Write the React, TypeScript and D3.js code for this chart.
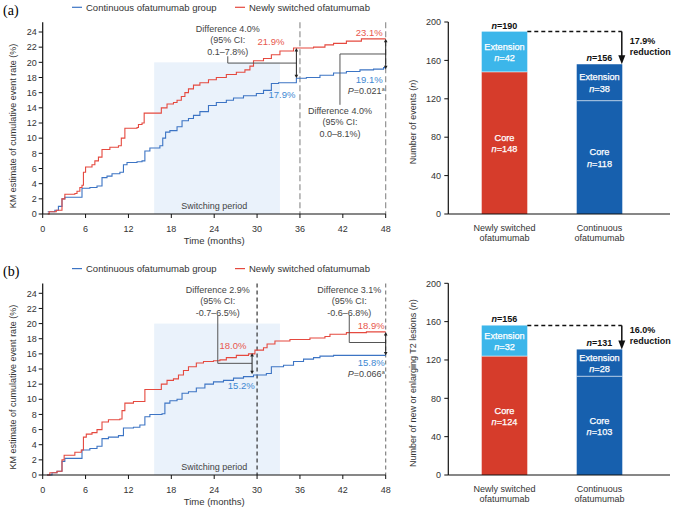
import * as d3 from "d3";

const monthTicks = [0, 6, 12, 18, 24, 30, 36, 42, 48];
const rateTicks = [0, 2, 4, 6, 8, 10, 12, 14, 16, 18, 20, 22, 24];
const countTicks = [0, 40, 80, 120, 160, 200];
const groups = ["Newly switched ofatumumab", "Continuous ofatumumab"];
const groupLines = [
  ["Newly switched", "ofatumumab"],
  ["Continuous", "ofatumumab"],
];
const legendLabels = ["Continuous ofatumumab group", "Newly switched ofatumumab"];
const switchingPeriod = [15.6, 33.2];

// (a) relapses — KM steps [month, cumulative %]
const relapseNewly: [number, number][] = [
  [0.7, 0], [0.9, 0.3], [1.9, 0.5], [2.7, 2.0], [3.1, 2.6], [4.5, 2.7], [4.8, 3.0], [5.2, 3.5],
  [5.5, 3.8], [5.7, 5.5], [6.0, 6.2], [6.9, 6.5], [7.3, 7.0], [7.8, 7.5], [8.3, 8.5],
  [9.4, 8.8], [10.6, 9.0], [11.0, 10.0], [11.5, 11.3], [13.2, 11.4], [13.4, 11.8],
  [13.9, 12.0], [14.2, 13.3], [16.6, 14.0], [17.4, 14.5], [18.3, 14.7], [18.8, 15.0],
  [19.4, 15.5], [19.9, 16.0], [20.4, 16.5], [21.1, 17.0], [22.0, 17.3], [23.2, 17.7],
  [24.3, 18.0], [25.7, 18.4], [27.1, 18.7], [28.3, 19.0], [29.0, 19.5], [29.5, 20.2],
  [30.9, 20.5], [32.0, 21.0], [33.2, 21.5], [35.1, 21.9], [37.9, 22.0], [39.5, 22.3],
  [40.7, 22.5], [42.5, 22.8], [44.6, 23.1], [48, 23.1],
];
const relapseContinuous: [number, number][] = [
  [0.7, 0.3], [1.7, 0.5], [2.2, 1.0], [2.7, 2.0], [3.1, 2.2], [5.5, 3.4], [6.6, 3.5],
  [7.6, 3.7], [8.3, 4.8], [9.0, 5.0], [9.7, 5.3], [10.8, 5.5], [11.3, 6.5], [11.8, 6.8],
  [13.2, 6.9], [13.9, 7.0], [14.3, 8.3], [15.0, 8.7], [16.4, 9.0], [16.8, 10.0],
  [17.2, 10.8], [17.8, 11.0], [18.8, 11.5], [19.5, 12.3], [20.4, 12.6], [21.1, 13.0],
  [22.0, 13.5], [23.2, 14.3], [24.3, 14.7], [25.7, 15.0], [26.7, 15.3], [28.1, 15.6],
  [29.9, 15.9], [30.9, 16.3], [32.0, 17.2], [33.0, 17.3], [35.5, 17.9], [36.9, 18.0],
  [38.8, 18.3], [40.7, 18.6], [42.5, 18.8], [44.4, 19.0], [46.3, 19.1], [47.7, 19.3], [48, 19.3],
];
const relapseCore = [148, 118];
const relapseExtension = [42, 38];
const relapseReduction = "17.9%";

// (b) new or enlarging T2 lesions
const lesionNewly: [number, number][] = [
  [0.6, 0], [1.0, 0.3], [2.0, 0.5], [2.7, 2.0], [3.0, 2.6], [4.5, 3.0], [5.4, 3.3],
  [5.7, 5.0], [6.1, 5.4], [6.9, 5.6], [7.6, 6.0], [8.3, 7.0], [9.2, 7.3], [10.8, 7.4],
  [11.1, 8.5], [11.5, 9.5], [12.7, 9.7], [14.3, 11.3], [16.6, 12.0], [17.4, 12.5],
  [18.3, 12.7], [19.0, 13.2], [19.7, 13.8], [20.4, 14.3], [21.5, 14.8], [22.5, 15.0],
  [23.9, 15.1], [24.8, 15.2], [25.7, 15.5], [27.1, 15.8], [28.8, 16.0], [29.7, 16.5],
  [30.9, 16.8], [31.4, 17.3], [32.5, 17.7], [34.6, 17.9], [37.4, 18.1], [39.5, 18.3],
  [40.2, 18.6], [42.5, 18.8], [45.3, 18.9], [48, 18.9],
];
const lesionContinuous: [number, number][] = [
  [0.6, 0], [1.3, 0.3], [2.0, 0.5], [2.7, 1.8], [3.1, 2.2], [5.5, 3.3], [6.6, 3.5],
  [7.6, 3.8], [8.3, 4.8], [9.2, 5.0], [10.6, 5.2], [11.3, 6.2], [12.7, 6.3], [13.6, 6.6],
  [14.3, 7.7], [15.0, 8.0], [16.7, 8.1], [17.1, 9.5], [17.8, 9.8], [18.8, 10.0],
  [19.5, 10.8], [20.4, 11.0], [21.5, 11.5], [22.7, 12.0], [23.9, 12.3], [25.3, 12.5],
  [26.7, 12.8], [28.1, 13.0], [29.5, 13.2], [31.3, 13.4], [32.0, 14.3], [33.7, 14.5],
  [35.1, 15.0], [36.5, 15.3], [37.9, 15.5], [38.8, 15.7], [40.7, 15.8], [48, 15.8],
];
const lesionCore = [124, 103];
const lesionExtension = [32, 28];
const lesionReduction = "16.0%";

// comparison callouts: month, newly %, continuous %, difference, CI, p
const relapseCallouts = [
  { t: 35.5, hi: 21.9, lo: 17.9, shownHi: "21.9%", shownLo: "17.9%", diff: "4.0%", ci: "0.1–7.8%", p: "" },
  { t: 48, hi: 23.1, lo: 19.1, shownHi: "23.1%", shownLo: "19.1%", diff: "4.0%", ci: "0.0–8.1%", p: "0.021" },
];
const lesionCallouts = [
  { t: 29.3, hi: 16.1, lo: 13.3, shownHi: "18.0%", shownLo: "15.2%", diff: "2.9%", ci: "-0.7–6.5%", p: "" },
  { t: 48, hi: 18.9, lo: 15.8, shownHi: "18.9%", shownLo: "15.8%", diff: "3.1%", ci: "-0.6–6.8%", p: "0.066" },
];

const RED = "#e5493f";
const BLUE = "#3c74c4";
const RED_TXT = "#e8584e";
const BLUE_TXT = "#3f88d2";
const GREY_TXT = "#444";
const FONT = "'Liberation Sans', Arial, sans-serif";

interface CalloutLayout {
  textT: number;
  textRowY: number;
  stemEnd: number;
  elbowV: number;
  hiDx: number;
  hiDy: number;
  loDx: number;
  loDy: number;
  pDy: number;
}

interface KMProps {
  tag: string;
  top: number;
  bottom: number;
  newly: [number, number][];
  continuous: [number, number][];
  callouts: typeof relapseCallouts;
  layouts: CalloutLayout[];
  refLines: { t: number; color: string; dash: string }[];
}

function KMPanel({ tag, top, bottom, newly, continuous, callouts, layouts, refLines }: KMProps) {
  const x = d3.scaleLinear().domain([0, 48]).range([42.7, 385.7]);
  const y = d3.scaleLinear().domain([0, 24]).range([bottom, top]);
  const line = d3
    .line<[number, number]>()
    .x((d) => x(d[0]))
    .y((d) => y(d[1]))
    .curve(d3.curveStepAfter);
  const axisTop = y(25.3);

  return (
    <g fontFamily={FONT}>
      <text x={3} y={top - 17} fontFamily="'Liberation Serif', 'Times New Roman', serif" fontSize={14}>
        {tag}
      </text>
      {/* legend */}
      <line x1={72} x2={82} y1={top - 24.7} y2={top - 24.7} stroke={BLUE} strokeWidth={1.2} />
      <text x={86} y={top - 21.5} fontSize={9.5} fill="#333">{legendLabels[0]}</text>
      <line x1={235} x2={245} y1={top - 24.7} y2={top - 24.7} stroke={RED} strokeWidth={1.2} />
      <text x={249} y={top - 21.5} fontSize={9.5} fill="#333">{legendLabels[1]}</text>

      {/* switching period */}
      <rect
        x={x(switchingPeriod[0])}
        y={y(20)}
        width={x(switchingPeriod[1]) - x(switchingPeriod[0])}
        height={y(0) - y(20)}
        fill="#eaf2fb"
      />
      <text x={x(24)} y={y(0) - 5} fontSize={9} fill="#444" textAnchor="middle">Switching period</text>

      {refLines.map((r) => (
        <line key={r.t} x1={x(r.t)} x2={x(r.t)} y1={axisTop} y2={y(0)} stroke={r.color} strokeWidth={1.1} strokeDasharray={r.dash} />
      ))}

      <path d={line(continuous) ?? ""} fill="none" stroke={BLUE} strokeWidth={1.1} />
      <path d={line(newly) ?? ""} fill="none" stroke={RED} strokeWidth={1.1} />

      {/* axes */}
      <line x1={x(0)} x2={x(0)} y1={axisTop} y2={y(0)} stroke="#111" strokeWidth={1.2} />
      <line x1={x(0)} x2={x(48)} y1={y(0)} y2={y(0)} stroke="#111" strokeWidth={1.2} />
      {rateTicks.map((t) => (
        <g key={t}>
          <line x1={x(0) - 4} x2={x(0)} y1={y(t)} y2={y(t)} stroke="#111" strokeWidth={1} />
          <text x={x(0) - 6} y={y(t) + 3.2} fontSize={9} textAnchor="end" fill="#333">{t}</text>
        </g>
      ))}
      {monthTicks.map((t) => (
        <g key={t}>
          <line x1={x(t)} x2={x(t)} y1={y(0)} y2={y(0) + 4} stroke="#111" strokeWidth={1} />
          <text x={x(t)} y={y(0) + 18} fontSize={9} textAnchor="middle" fill="#333">{t}</text>
        </g>
      ))}
      <text x={x(24)} y={y(0) + 30} fontSize={9.5} textAnchor="middle" fill="#333">Time (months)</text>
      <text
        transform={`translate(15.5,${(y(0) + top) / 2 + 3}) rotate(-90)`}
        fontSize={9}
        textAnchor="middle"
        fill="#333"
      >
        KM estimate of cumulative event rate (%)
      </text>

      {callouts.map((c, i) => {
        const L = layouts[i];
        const ax = x(c.t);
        const tx = x(L.textT);
        return (
          <g key={i}>
            <path
              d={`M${tx},${y(L.stemEnd)}V${y(L.elbowV)}H${ax}`}
              fill="none"
              stroke="#555"
              strokeWidth={1}
            />
            <line x1={ax} x2={ax} y1={y(c.hi) + 3} y2={y(c.lo) - 3} stroke="#222" strokeWidth={1} />
            <path d={`M${ax - 1.8},${y(c.hi) + 3.5}L${ax},${y(c.hi)}L${ax + 1.8},${y(c.hi) + 3.5}Z`} fill="#222" />
            <path d={`M${ax - 1.8},${y(c.lo) - 3.5}L${ax},${y(c.lo)}L${ax + 1.8},${y(c.lo) - 3.5}Z`} fill="#222" />
            <text textAnchor="middle" fontSize={9} fill={GREY_TXT}>
              <tspan x={tx} y={L.textRowY}>Difference {c.diff}</tspan>
              <tspan x={tx} y={L.textRowY + 11.5}>(95% CI:</tspan>
              <tspan x={tx} y={L.textRowY + 23}>{c.ci})</tspan>
            </text>
            <text x={ax + L.hiDx} y={y(c.hi) + L.hiDy} fontSize={9.5} textAnchor="end" fill={RED_TXT}>
              {c.shownHi}
            </text>
            <text x={ax + L.loDx} y={y(c.lo) + L.loDy} fontSize={9.5} textAnchor="end" fill={BLUE_TXT}>
              {c.shownLo}
            </text>
            {c.p && (
              <text x={ax - 1} y={y(c.lo) + L.pDy} fontSize={9} textAnchor="end" fill={GREY_TXT}>
                <tspan fontStyle="italic">P</tspan>={c.p}
                <tspan fontSize={5.5} dy={-3.5}>a</tspan>
              </text>
            )}
          </g>
        );
      })}
    </g>
  );
}

interface BarProps {
  top: number;
  bottom: number;
  core: number[];
  extension: number[];
  reduction: string;
  yLabel: string;
}

function BarPanel({ top, bottom, core, extension, reduction, yLabel }: BarProps) {
  const y = d3.scaleLinear().domain([0, 200]).range([bottom, top]);
  const x = d3.scaleBand().domain(groups).range([457, 647]).paddingInner(0.52).paddingOuter(0.26);
  const bw = x.bandwidth();
  const totals = core.map((c, i) => c + extension[i]);
  const coreFill = ["#d63c2b", "#1760ae"];
  const extFill = ["#3cb6ea", "#1760ae"];
  const x0 = x(groups[0])! + bw;
  const x1 = x(groups[1])! + bw - 0.5;

  return (
    <g fontFamily={FONT}>
      {groups.map((g, i) => {
        const bx = x(g)!;
        const cx = bx + bw / 2;
        const coreMid = (y(0) + y(core[i])) / 2;
        const extMid = (y(core[i]) + y(totals[i])) / 2;
        return (
          <g key={g}>
            <rect x={bx} y={y(core[i])} width={bw} height={y(0) - y(core[i])} fill={coreFill[i]} />
            <rect x={bx} y={y(totals[i])} width={bw} height={y(core[i]) - y(totals[i])} fill={extFill[i]} />
            <line x1={bx} x2={bx + bw} y1={y(core[i])} y2={y(core[i])} stroke="#fff" strokeOpacity={0.6} strokeWidth={1} />
            <text textAnchor="middle" fill="#fff" fontSize={9.2} stroke="#fff" strokeWidth={0.25}>
              <tspan x={cx} y={extMid - 2}>Extension</tspan>
              <tspan x={cx} y={extMid + 9.5}>
                <tspan fontStyle="italic">n</tspan>={extension[i]}
              </tspan>
            </text>
            <text textAnchor="middle" fill="#fff" fontSize={9.2} stroke="#fff" strokeWidth={0.25}>
              <tspan x={cx} y={coreMid - 2}>Core</tspan>
              <tspan x={cx} y={coreMid + 9.5}>
                <tspan fontStyle="italic">n</tspan>={core[i]}
              </tspan>
            </text>
            <text x={cx} y={y(totals[i]) - 3} textAnchor="middle" fontSize={9} fontWeight="bold" fill="#111">
              <tspan fontStyle="italic">n</tspan>={totals[i]}
            </text>
            <text textAnchor="middle" fontSize={9} fill="#333">
              <tspan x={cx} y={y(0) + 17}>{groupLines[i][0]}</tspan>
              <tspan x={cx} y={y(0) + 27}>{groupLines[i][1]}</tspan>
            </text>
          </g>
        );
      })}

      {/* reduction marker */}
      <line x1={x0} x2={x1} y1={y(totals[0])} y2={y(totals[0])} stroke="#111" strokeWidth={1.5} strokeDasharray="4,3" />
      <line x1={x1} x2={x1} y1={y(totals[0])} y2={y(totals[1]) - 8} stroke="#111" strokeWidth={1.5} />
      <path d={`M${x1 - 3.5},${y(totals[1]) - 9}L${x1},${y(totals[1])}L${x1 + 3.5},${y(totals[1]) - 9}Z`} fill="#111" />
      <text fontSize={9} fontWeight="bold" fill="#111">
        <tspan x={x1 + 8} y={(y(totals[0]) + y(totals[1])) / 2 - 4}>{reduction}</tspan>
        <tspan x={x1 + 8} y={(y(totals[0]) + y(totals[1])) / 2 + 7}>reduction</tspan>
      </text>

      {/* axes */}
      <line x1={448.3} x2={448.3} y1={y(200)} y2={y(0)} stroke="#111" strokeWidth={1.2} />
      <line x1={448.3} x2={670} y1={y(0)} y2={y(0)} stroke="#111" strokeWidth={1.2} />
      {countTicks.map((t) => (
        <g key={t}>
          <line x1={444.3} x2={448.3} y1={y(t)} y2={y(t)} stroke="#111" strokeWidth={1} />
          <text x={441} y={y(t) + 3.2} fontSize={9} textAnchor="end" fill="#333">{t}</text>
        </g>
      ))}
      <text
        transform={`translate(416,${(y(0) + y(200)) / 2 + 4}) rotate(-90)`}
        fontSize={9}
        textAnchor="middle"
        fill="#333"
      >
        {yLabel} (<tspan fontStyle="italic">n</tspan>)
      </text>
    </g>
  );
}

export default function App() {
  return (
    <svg
      width={679}
      height={512}
      viewBox="0 0 679 512"
      style={{ position: "absolute", left: 0, top: 0, background: "#fff" }}
    >
      <KMPanel
        tag="(a)"
        top={32}
        bottom={214}
        newly={relapseNewly}
        continuous={relapseContinuous}
        callouts={relapseCallouts}
        layouts={[
          { textT: 25.9, textRowY: 31.5, stemEnd: 20.8, elbowV: 19.9, hiDx: -12, hiDy: -2.5, loDx: -1, loDy: 20, pDy: 0 },
          { textT: 41.6, textRowY: 113.5, stemEnd: 14.4, elbowV: 21.1, hiDx: -3, hiDy: -3.3, loDx: -3, loDy: 14, pDy: 25 },
        ]}
        refLines={[
          { t: 36, color: "#888", dash: "6,3" },
          { t: 48, color: "#888", dash: "6,3" },
        ]}
      />
      <KMPanel
        tag="(b)"
        top={293.3}
        bottom={475}
        newly={lesionNewly}
        continuous={lesionContinuous}
        callouts={lesionCallouts}
        layouts={[
          { textT: 24.5, textRowY: 292.5, stemEnd: 21.1, elbowV: 14.75, hiDx: -5.6, hiDy: -4.6, loDx: 2.7, loDy: 15, pDy: 0 },
          { textT: 42.9, textRowY: 292.5, stemEnd: 21.1, elbowV: 17.5, hiDx: -1, hiDy: -3.4, loDx: -1, loDy: 11, pDy: 22 },
        ]}
        refLines={[
          { t: 30, color: "#222", dash: "4,3" },
          { t: 48, color: "#777", dash: "4,3" },
        ]}
      />
      <BarPanel
        top={22}
        bottom={214}
        core={relapseCore}
        extension={relapseExtension}
        reduction={relapseReduction}
        yLabel="Number of events"
      />
      <BarPanel
        top={283.3}
        bottom={475}
        core={lesionCore}
        extension={lesionExtension}
        reduction={lesionReduction}
        yLabel="Number of new or enlarging T2 lesions"
      />
    </svg>
  );
}
